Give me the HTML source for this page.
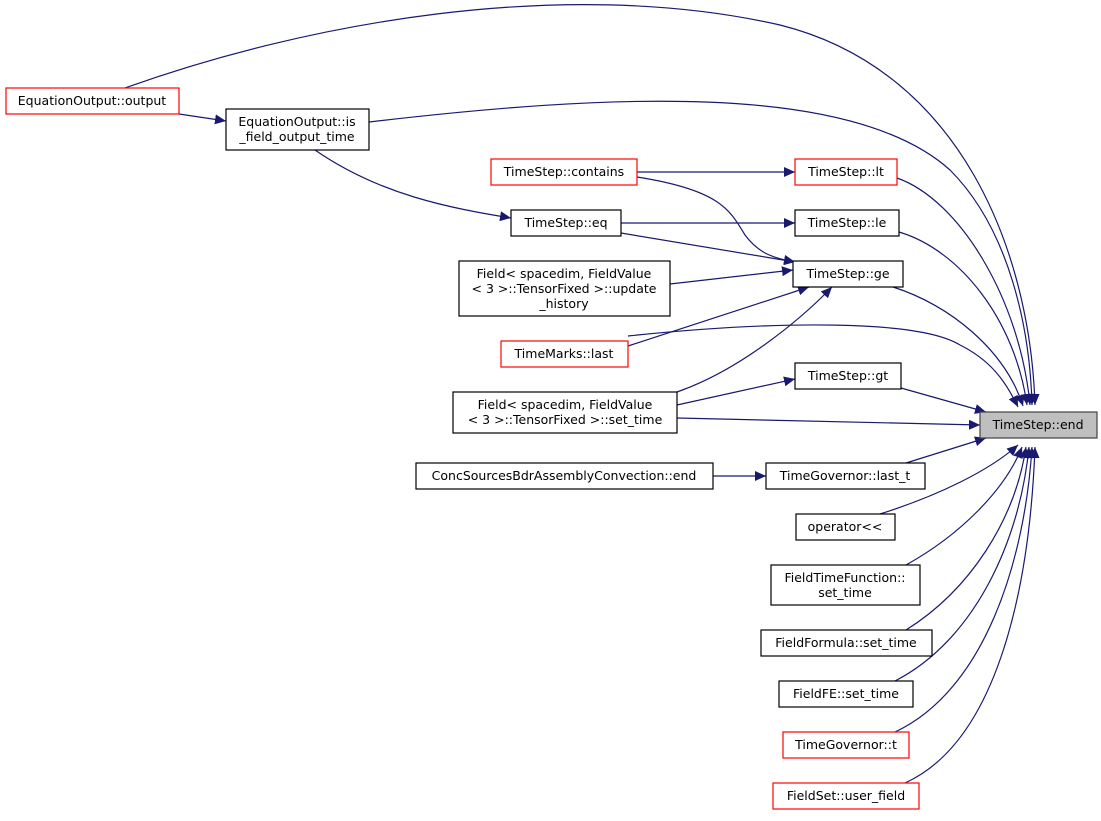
<!DOCTYPE html>
<html><head><meta charset="utf-8"><style>
html,body{margin:0;padding:0;background:#fff}
svg text{font-family:"DejaVu Sans","Liberation Sans",sans-serif;font-size:12.5px;fill:#000;text-anchor:middle}
</style></head><body>
<svg width="1101" height="816" viewBox="0 0 1101 816" xmlns="http://www.w3.org/2000/svg">
<defs>
<marker id="a" markerWidth="12" markerHeight="10" refX="11" refY="5" orient="auto" markerUnits="userSpaceOnUse">
<path d="M0,0 L11,5 L0,10 Z" fill="#191970"/>
</marker>
</defs>
<g fill="none" stroke="#191970" stroke-width="1.2" marker-end="url(#a)">
<path d="M125,88 C300,25 560,-25 780,25 C960,70 1030,250 1035,405"/>
<path d="M369,122 C600,95 850,80 950,170 C1010,230 1030,330 1032,405"/>
<path d="M897,178 C960,200 1020,300 1030,405"/>
<path d="M899,232 C960,250 1015,320 1027,405"/>
<path d="M893,287 C950,305 1005,350 1023,406"/>
<path d="M628,336 C780,320 920,320 960,345 C990,360 1005,380 1018,407"/>
<path d="M901,388 L986,412"/>
<path d="M677,418 L980,425"/>
<path d="M906,463 L986,438"/>
<path d="M880,514 C940,495 990,470 1018,445"/>
<path d="M906,565 C960,535 1005,490 1022,447"/>
<path d="M906,630 C970,590 1015,520 1026,447"/>
<path d="M895,681 C975,640 1020,540 1029,447"/>
<path d="M895,732 C985,690 1025,560 1032,447"/>
<path d="M905,783 C1000,740 1030,580 1035,447"/>
<path d="M179,114 L226,121"/>
<path d="M315,150 C380,195 450,208 511,218"/>
<path d="M637,172 L795,172"/>
<path d="M637,177 C720,190 730,210 745,235 C760,255 775,258 795,262"/>
<path d="M621,223 L795,223"/>
<path d="M621,233 L795,262"/>
<path d="M670,284 L793,270"/>
<path d="M628,346 L809,287"/>
<path d="M677,392 C740,370 800,320 832,287"/>
<path d="M677,405 L795,379"/>
<path d="M713,476 L766,476"/>
</g>
<g stroke-width="1.2" fill="#fff">
<rect x="6" y="88" width="173" height="26" stroke="#f00"/>
<rect x="226" y="109" width="143" height="41" stroke="#000"/>
<rect x="491" y="159" width="146" height="26" stroke="#f00"/>
<rect x="795" y="159" width="102" height="26" stroke="#f00"/>
<rect x="511" y="210" width="110" height="26" stroke="#000"/>
<rect x="795" y="210" width="104" height="26" stroke="#000"/>
<rect x="459" y="261" width="211" height="55" stroke="#000"/>
<rect x="793" y="261" width="110" height="26" stroke="#000"/>
<rect x="501" y="341" width="127" height="26" stroke="#f00"/>
<rect x="795" y="363" width="106" height="26" stroke="#000"/>
<rect x="453" y="392" width="224" height="41" stroke="#000"/>
<rect x="980" y="412" width="117" height="26" stroke="#444" fill="#bfbfbf"/>
<rect x="416" y="463" width="297" height="26" stroke="#000"/>
<rect x="766" y="463" width="159" height="26" stroke="#000"/>
<rect x="796" y="514" width="99" height="26" stroke="#000"/>
<rect x="771" y="565" width="149" height="40" stroke="#000"/>
<rect x="761" y="630" width="171" height="26" stroke="#000"/>
<rect x="779" y="681" width="134" height="26" stroke="#000"/>
<rect x="783" y="732" width="126" height="26" stroke="#f00"/>
<rect x="773" y="783" width="146" height="26" stroke="#f00"/>
</g>
<g>
<text x="92" y="105">EquationOutput::output</text>
<text x="297" y="126">EquationOutput::is</text>
<text x="297" y="141">_field_output_time</text>
<text x="564" y="176">TimeStep::contains</text>
<text x="846" y="176">TimeStep::lt</text>
<text x="566" y="227">TimeStep::eq</text>
<text x="847" y="227">TimeStep::le</text>
<text x="564" y="278">Field&lt; spacedim, FieldValue</text>
<text x="564" y="293">&lt; 3 &gt;::TensorFixed &gt;::update</text>
<text x="564" y="308">_history</text>
<text x="848" y="278">TimeStep::ge</text>
<text x="564" y="358">TimeMarks::last</text>
<text x="848" y="380">TimeStep::gt</text>
<text x="565" y="409">Field&lt; spacedim, FieldValue</text>
<text x="565" y="424">&lt; 3 &gt;::TensorFixed &gt;::set_time</text>
<text x="1038" y="429">TimeStep::end</text>
<text x="564" y="480">ConcSourcesBdrAssemblyConvection::end</text>
<text x="845" y="480">TimeGovernor::last_t</text>
<text x="845" y="531">operator&lt;&lt;</text>
<text x="845" y="582">FieldTimeFunction::</text>
<text x="845" y="597">set_time</text>
<text x="846" y="647">FieldFormula::set_time</text>
<text x="846" y="698">FieldFE::set_time</text>
<text x="846" y="749">TimeGovernor::t</text>
<text x="846" y="800">FieldSet::user_field</text>
</g>
</svg>
</body></html>
